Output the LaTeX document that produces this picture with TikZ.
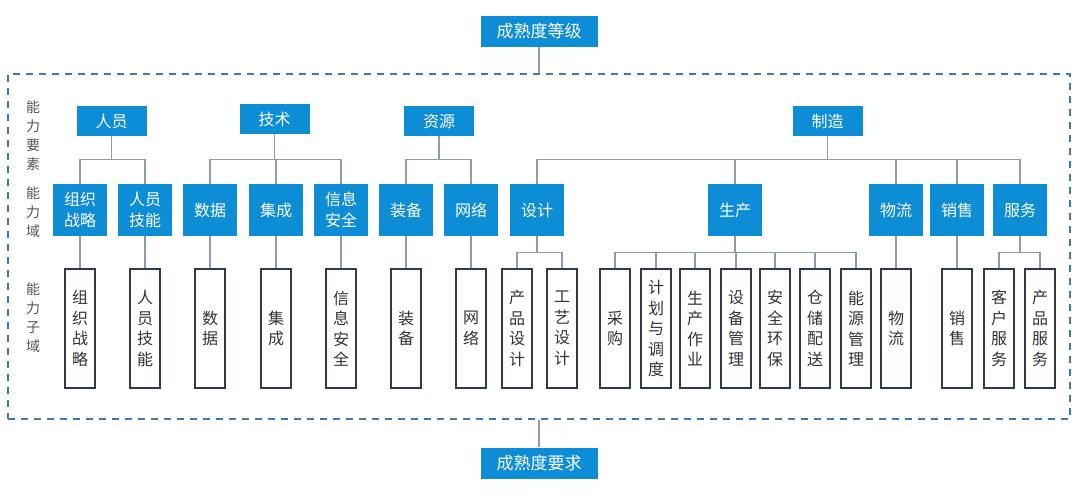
\documentclass[tikz,border=0pt]{standalone}
\usepackage{fontspec}
\newfontfamily\cjk{Noto Sans CJK SC}
\definecolor{mblue}{HTML}{0C8DD6}
\definecolor{navy}{HTML}{2E3A55}
\definecolor{conncol}{HTML}{8A9BB3}
\definecolor{dashcol}{HTML}{3B7BA6}
\definecolor{txtgray}{HTML}{333333}
\definecolor{labgray}{HTML}{555555}
\begin{document}
\begin{tikzpicture}[x=1pt,y=-1pt,
  topbox/.style={fill=mblue,text=white,minimum width=117pt,minimum height=31pt,inner sep=0pt,font=\cjk\fontsize{17}{20}\selectfont},
  lone/.style={fill=mblue,text=white,minimum width=70pt,minimum height=30pt,inner sep=0pt,font=\cjk\fontsize{16}{20}\selectfont},
  ltwo/.style={fill=mblue,text=white,minimum width=54pt,minimum height=52pt,inner sep=0pt,align=center,font=\cjk\fontsize{16}{21}\selectfont},
  lthree/.style={draw=navy,line width=1.2pt,fill=white,minimum width=30pt,minimum height=119pt,inner sep=0pt,align=center,text=txtgray,font=\cjk\fontsize{16}{20.5}\selectfont},
  lab/.style={align=center,text=labgray,inner sep=0pt,font=\cjk\fontsize{14}{19}\selectfont},
  conn/.style={draw=conncol,line width=1.1pt},
  frame/.style={draw=dashcol,line width=1.3pt,dash pattern=on 7pt off 6pt,minimum width=1062pt,minimum height=345pt,inner sep=0pt}
]
\useasboundingbox (0,0) rectangle (1081,503);

\node[frame] (fr) at (539,246.5) {};
\node[topbox] (lvl) at (539,31.5) {成熟度等级};
\node[topbox] (req) at (539,463) {成熟度要求};
\draw[conn] (lvl.south) -- (fr.north);
\draw[conn] (fr.south) -- (req.north);

% left labels
\node[lab] (e1) at (33,136) {能\\力\\要\\素};
\node[lab] (e2) at (33,212) {能\\力\\域};
\node[lab] (e3) at (33,318) {能\\力\\子\\域};

% level 1
\node[lone] (p) at (111.5,121) {人员};
\node[lone] (t) at (274.5,119) {技术};
\node[lone] (r) at (439,121) {资源};
\node[lone] (m) at (827.5,121) {制造};

% level 2
\node[ltwo] (a1) at (80,210) {组织\\战略};
\node[ltwo] (a2) at (145,210) {人员\\技能};
\node[ltwo] (b1) at (210,210) {数据};
\node[ltwo] (b2) at (276,210) {集成};
\node[ltwo] (b3) at (341,210) {信息\\安全};
\node[ltwo] (c1) at (406,210) {装备};
\node[ltwo] (c2) at (471,210) {网络};
\node[ltwo] (d1) at (537,210) {设计};
\node[ltwo] (d2) at (735,210) {生产};
\node[ltwo] (d3) at (896,210) {物流};
\node[ltwo] (d4) at (957,210) {销售};
\node[ltwo] (d5) at (1020,210) {服务};

\foreach \c/\pp in {a1/p,a2/p,b1/t,b2/t,b3/t,c1/r,c2/r,d1/m,d2/m,d3/m,d4/m,d5/m}
  \draw[conn] (\c.north) -- ++(0,-24) -| (\pp.south);

% level 3
\node[lthree] (s1) at (80,328.5) {组\\织\\战\\略};
\node[lthree] (s2) at (145,328.5) {人\\员\\技\\能};
\node[lthree] (s3) at (210,328.5) {数\\据};
\node[lthree] (s4) at (276,328.5) {集\\成};
\node[lthree] (s5) at (341,328.5) {信\\息\\安\\全};
\node[lthree] (s6) at (406,328.5) {装\\备};
\node[lthree] (s7) at (471,328.5) {网\\络};
\node[lthree] (s8) at (517,328.5) {产\\品\\设\\计};
\node[lthree] (s9) at (562,328.5) {工\\艺\\设\\计};
\node[lthree] (s10) at (615,328.5) {采\\购};
\node[lthree] (s11) at (656,328.5) {计\\划\\与\\调\\度};
\node[lthree] (s12) at (695,328.5) {生\\产\\作\\业};
\node[lthree] (s13) at (736,328.5) {设\\备\\管\\理};
\node[lthree] (s14) at (775,328.5) {安\\全\\环\\保};
\node[lthree] (s15) at (815,328.5) {仓\\储\\配\\送};
\node[lthree] (s16) at (856,328.5) {能\\源\\管\\理};
\node[lthree] (s17) at (896,328.5) {物\\流};
\node[lthree] (s18) at (957,328.5) {销\\售};
\node[lthree] (s19) at (999,328.5) {客\\户\\服\\务};
\node[lthree] (s20) at (1040,328.5) {产\\品\\服\\务};

% straight links
\foreach \u/\v in {a1/s1,a2/s2,b1/s3,b2/s4,b3/s5,c1/s6,c2/s7,d3/s17,d4/s18}
  \draw[conn] (\u.south) -- (\v.north);
% branching links
\foreach \c/\pp in {s8/d1,s9/d1,s10/d2,s11/d2,s12/d2,s13/d2,s14/d2,s15/d2,s16/d2,s19/d5,s20/d5}
  \draw[conn] (\c.north) -- ++(0,-16) -| (\pp.south);
\end{tikzpicture}
\end{document}
